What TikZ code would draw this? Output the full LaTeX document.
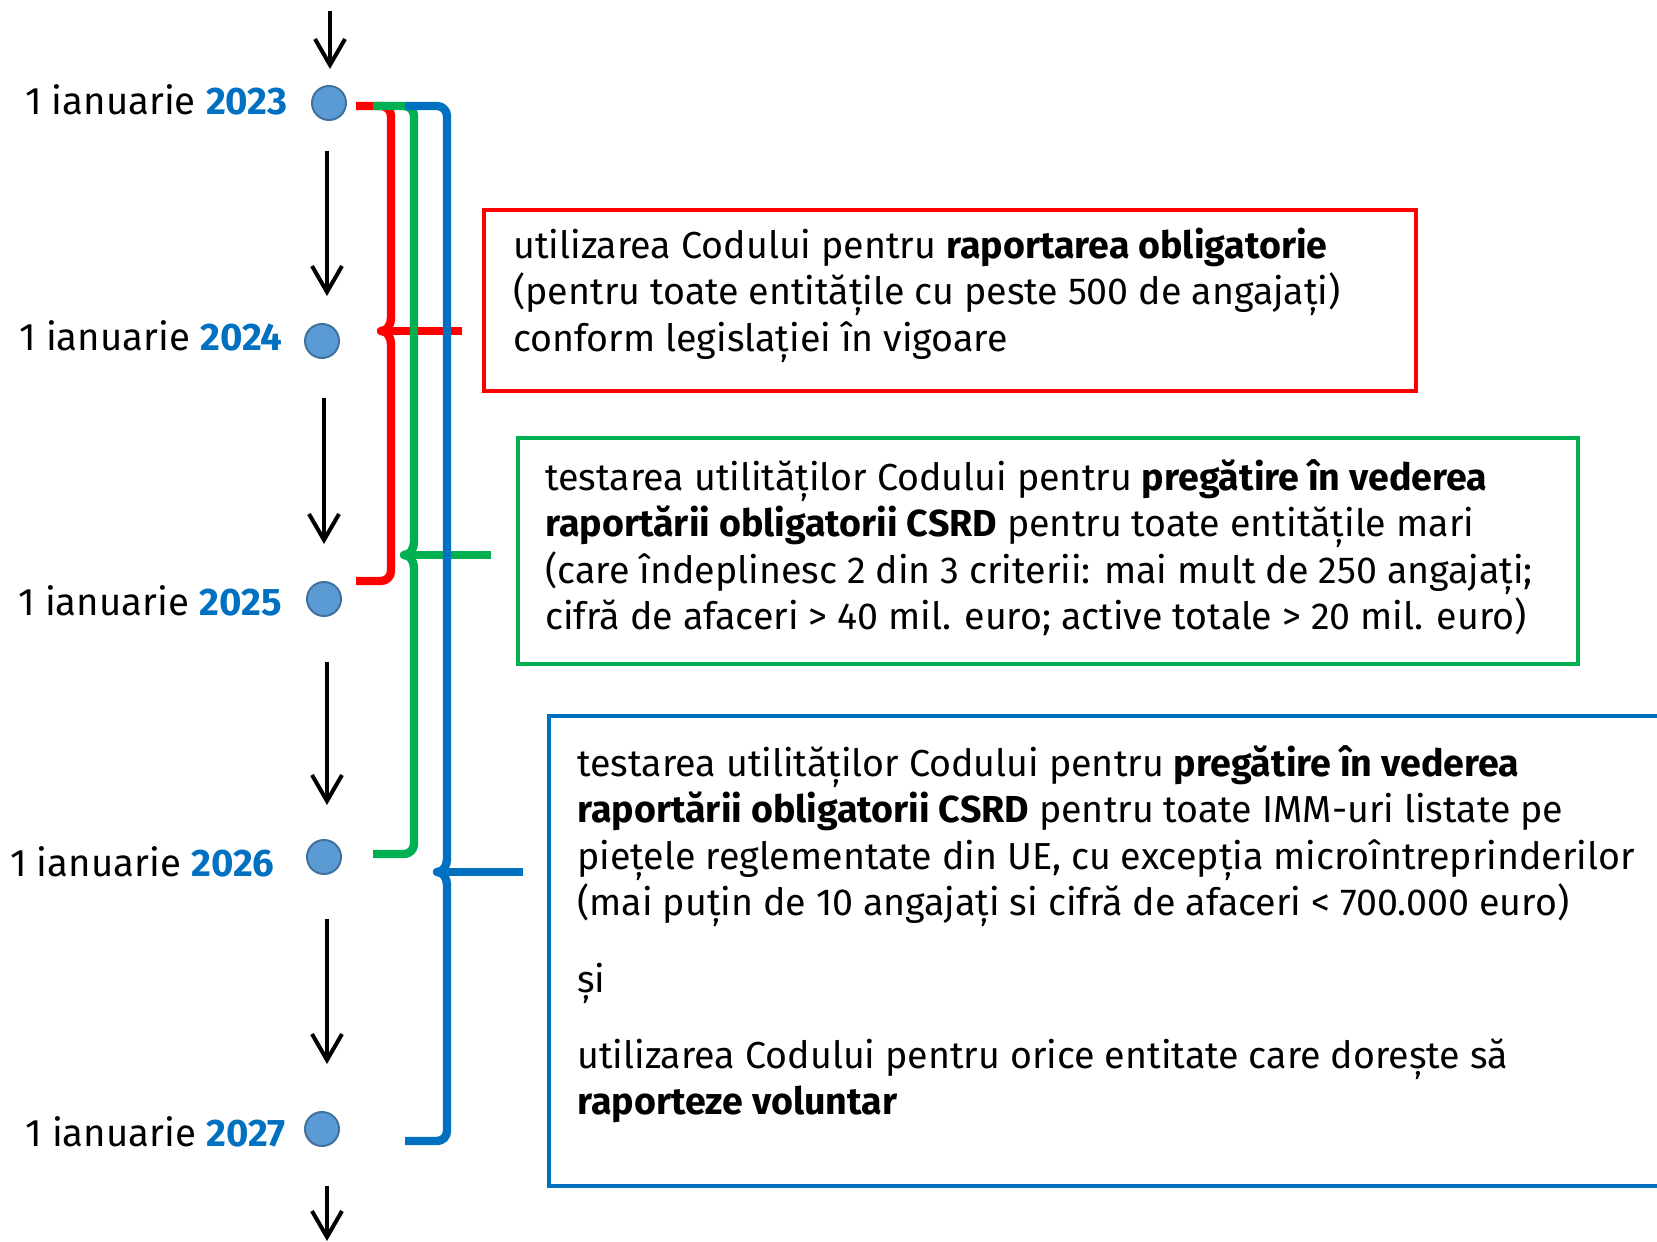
\documentclass[tikz,border=0pt]{standalone}
\usepackage{fontspec}
\setmainfont{Fira Sans}
\usetikzlibrary{arrows.meta}
\definecolor{rd}{HTML}{FF0000}
\definecolor{gn}{HTML}{00B050}
\definecolor{bl}{HTML}{0070C0}
\definecolor{dotfill}{HTML}{5B9BD5}
\definecolor{dotline}{HTML}{41719C}
\begin{document}
\begin{tikzpicture}[x=0.5pt,y=-0.5pt,
  dot/.style={circle,fill=dotfill,draw=dotline,line width=1pt,minimum size=17pt,inner sep=0pt},
  datelbl/.style={anchor=base east,inner sep=0pt,font=\fontsize{19.2}{22}\selectfont},
  txt/.style={anchor=base west,inner sep=0pt,font=\fontsize{18.8}{22}\selectfont},
  arr/.style={line width=2pt,-{Straight Barb[length=13pt,width=15pt,line width=2pt]}},
  bracefig/.style={line width=4.2pt,line cap=butt,line join=round},
  boxfig/.style={rectangle,inner sep=0pt,line width=2pt,anchor=north west}
]
\useasboundingbox[fill=white] (0,0) rectangle (1657,1241);
\clip (0,0) rectangle (1657,1241);

% timeline dots
\node[dot] (d23) at (329,103) {};
\node[dot] (d24) at (322,341) {};
\node[dot] (d25) at (324,599) {};
\node[dot] (d26) at (324,857) {};
\node[dot] (d27) at (322,1129) {};

% date labels
\node[datelbl] (l23) at (288,115) {1 ianuarie \textcolor{bl}{\bfseries 2023}};
\node[datelbl] (l24) at (283,350) {1 ianuarie \textcolor{bl}{\bfseries 2024}};
\node[datelbl] (l25) at (282,615) {1 ianuarie \textcolor{bl}{\bfseries 2025}};
\node[datelbl] (l26) at (275,876) {1 ianuarie \textcolor{bl}{\bfseries 2026}};
\node[datelbl] (l27) at (286,1146) {1 ianuarie \textcolor{bl}{\bfseries 2027}};

% arrow end points
\coordinate (a0s) at (330,11);   \coordinate (a0e) at (330,69);
\coordinate (a1s) at (327,151);  \coordinate (a1e) at (327,296);
\coordinate (a2s) at (324,398);  \coordinate (a2e) at (324,544);
\coordinate (a3s) at (327,662);  \coordinate (a3e) at (327,805);
\coordinate (a4s) at (327,919);  \coordinate (a4e) at (327,1064);
\coordinate (a5s) at (327,1186); \coordinate (a5e) at (327,1241);
\foreach \i in {0,...,5} {\draw[arr] (a\i s) -- (a\i e);}

% boxes
\node[boxfig,draw=rd,minimum width=466pt,minimum height=90.5pt] (rbox) at (482,208) {};
\node[boxfig,draw=gn,minimum width=530pt,minimum height=113pt] (gbox) at (516,436) {};
\node[boxfig,draw=bl,minimum width=590pt,minimum height=235pt] (bbox) at (547,714) {};

% red box text
\node[txt] (r1) at (513,258) {utilizarea Codului pentru \textbf{raportarea obligatorie}};
\node[txt] (r2) at (513,304.5) {(pentru toate entitățile cu peste 500 de angajați)};
\node[txt] (r3) at (513,351) {conform legislației în vigoare};

% green box text
\node[txt] (g1) at (545,490) {testarea utilităților Codului pentru \textbf{pregătire în vederea}};
\node[txt] (g2) at (545,536.5) {\textbf{raportării obligatorii CSRD} pentru toate entitățile mari};
\node[txt] (g3) at (545,583) {(care îndeplinesc 2 din 3 criterii: mai mult de 250 angajați;};
\node[txt] (g4) at (545,629.5) {cifră de afaceri > 40 mil. euro; active totale > 20 mil. euro)};

% blue box text
\node[txt] (b1) at (577,776) {testarea utilităților Codului pentru \textbf{pregătire în vederea}};
\node[txt] (b2) at (577,822.5) {\textbf{raportării obligatorii CSRD} pentru toate IMM-uri listate pe};
\node[txt] (b3) at (577,869) {piețele reglementate din UE, cu excepția microîntreprinderilor};
\node[txt] (b4) at (577,915.5) {(mai puțin de 10 angajați si cifră de afaceri < 700.000 euro)};
\node[txt] (b5) at (577,992) {și};
\node[txt] (b6) at (577,1068) {utilizarea Codului pentru orice entitate care dorește să};
\node[txt] (b7) at (577,1114.5) {\textbf{raporteze voluntar}};

% brace coordinates
\coordinate (rA) at (356,106);  \coordinate (rB) at (356,581);
\coordinate (rT) at (381,331);  \coordinate (rE) at (462,331);
\coordinate (gA) at (373,106);  \coordinate (gB) at (373,854);
\coordinate (gT) at (404,555);  \coordinate (gE) at (491,555);
\coordinate (bA) at (405,106);  \coordinate (bB) at (405,1141);
\coordinate (bT) at (437,872);  \coordinate (bE) at (523,872);

% red brace
\draw[bracefig,rd] (rA) -- (381,106) to[out=0,in=90] (391,116) -- (391,318)
  to[out=-90,in=0] (rT) to[out=0,in=90] (391,344) -- (391,571)
  to[out=-90,in=0] (381,581) -- (rB);
\draw[bracefig,rd] (rT) -- (rE);
% green brace
\draw[bracefig,gn] (gA) -- (404,106) to[out=0,in=90] (414,116) -- (414,542)
  to[out=-90,in=0] (gT) to[out=0,in=90] (414,568) -- (414,844)
  to[out=-90,in=0] (404,854) -- (gB);
\draw[bracefig,gn] (gT) -- (gE);
% blue brace
\draw[bracefig,bl] (bA) -- (437,106) to[out=0,in=90] (447,116) -- (447,859)
  to[out=-90,in=0] (bT) to[out=0,in=90] (447,885) -- (447,1131)
  to[out=-90,in=0] (437,1141) -- (bB);
\draw[bracefig,bl] (bT) -- (bE);
\end{tikzpicture}
\end{document}
